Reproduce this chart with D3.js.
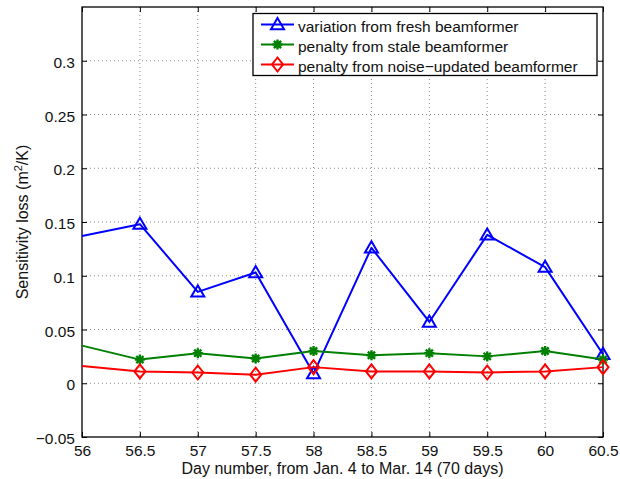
<!DOCTYPE html>
<html>
<head>
<meta charset="utf-8">
<script src="https://cdn.jsdelivr.net/npm/d3@7"></script>
<style>
  html, body { margin: 0; padding: 0; background: #fff; }
  svg { display: block; font-family: "Liberation Sans", Arial, Helvetica, sans-serif; }
</style>
</head>
<body>
<svg id="chart" width="620" height="479"></svg>
<script>
// Day numbers sampled every half day
const days = [56, 56.5, 57, 57.5, 58, 58.5, 59, 59.5, 60, 60.5];

// Sensitivity loss (m^2/K) for each beamformer case
const freshVariation = [0.137, 0.148, 0.085, 0.103, 0.009, 0.126, 0.057, 0.138, 0.108, 0.027];
const stalePenalty   = [0.035, 0.022, 0.028, 0.023, 0.030, 0.026, 0.028, 0.025, 0.030, 0.022];
const noisePenalty   = [0.016, 0.011, 0.010, 0.008, 0.015, 0.011, 0.011, 0.010, 0.011, 0.015];

const seriesNames = [
  "variation from fresh beamformer",
  "penalty from stale beamformer",
  "penalty from noise\u2212updated beamformer"
];

const xTicks = [56, 56.5, 57, 57.5, 58, 58.5, 59, 59.5, 60, 60.5];
const yTicks = [-0.05, 0, 0.05, 0.1, 0.15, 0.2, 0.25, 0.3];

const svg = d3.select("#chart");
const plotLeft = 82, plotRight = 603, plotTop = 7, plotBottom = 437;
const tickFont = "15.5px", labelFont = "16px";

const x = d3.scaleLinear().domain([56, 60.5]).range([plotLeft, plotRight]);
const y = d3.scaleLinear().domain([-0.05, 0.35]).range([plotBottom, plotTop]);

const fmt = v => (v < 0 ? "\u2212" : "") + String(Math.abs(+v.toFixed(2)));

// Dotted grid
const grid = svg.append("g").attr("stroke", "#8a8a8a").attr("stroke-width", 1)
  .attr("stroke-dasharray", "1,3");
xTicks.slice(1, -1).forEach(t => {
  grid.append("line").attr("x1", x(t)).attr("x2", x(t)).attr("y1", plotTop).attr("y2", plotBottom);
});
yTicks.slice(1).forEach(t => {
  grid.append("line").attr("x1", plotLeft).attr("x2", plotRight).attr("y1", y(t)).attr("y2", y(t));
});

// Axes with inward ticks, mirrored on top and right
const tickLen = 5;
const axisBottom = d3.axisBottom(x).tickValues(xTicks).tickSize(-tickLen).tickPadding(8).tickFormat(fmt);
const axisLeft = d3.axisLeft(y).tickValues(yTicks).tickSize(-tickLen).tickPadding(7).tickFormat(fmt);
const axisTop = d3.axisTop(x).tickValues(xTicks).tickSize(-tickLen).tickFormat("");
const axisRight = d3.axisRight(y).tickValues(yTicks).tickSize(-tickLen).tickFormat("");

function styleAxis(g) {
  g.select(".domain").remove();
  g.selectAll(".tick line").attr("stroke", "#000").attr("stroke-width", 1);
  g.selectAll(".tick text").attr("fill", "#111").style("font-size", tickFont);
}

svg.append("g").attr("transform", `translate(0,${plotBottom})`).call(axisBottom).call(styleAxis);
svg.append("g").attr("transform", `translate(${plotLeft},0)`).call(axisLeft).call(styleAxis)
  .selectAll(".tick text").attr("dy", "0.43em");
svg.append("g").attr("transform", `translate(0,${plotTop})`).call(axisTop).call(styleAxis);
svg.append("g").attr("transform", `translate(${plotRight},0)`).call(axisRight).call(styleAxis);

svg.append("rect").attr("x", plotLeft).attr("y", plotTop)
  .attr("width", plotRight - plotLeft).attr("height", plotBottom - plotTop)
  .attr("fill", "none").attr("stroke", "#000").attr("stroke-width", 1.3);

// Axis titles
svg.append("text").attr("x", (plotLeft + plotRight) / 2).attr("y", 474).attr("text-anchor", "middle")
  .style("font-size", labelFont).attr("fill", "#111")
  .text("Day number, from Jan. 4 to Mar. 14 (70 days)");

const yl = svg.append("text").attr("transform", `translate(28,${(plotTop + plotBottom) / 2}) rotate(-90)`)
  .attr("text-anchor", "middle").style("font-size", labelFont).attr("fill", "#111");
yl.append("tspan").text("Sensitivity loss (m");
yl.append("tspan").attr("dy", -6).style("font-size", "11px").text("2");
yl.append("tspan").attr("dy", 6).text("/K)");

// Marker drawing helpers
function triangle(g, cx, cy, color) {
  const s = 6.5;
  g.append("path").attr("d", `M${cx},${cy - s} L${cx + s},${cy + s * 0.72} L${cx - s},${cy + s * 0.72} Z`)
    .attr("fill", "none").attr("stroke", color).attr("stroke-width", 2);
}
function star(g, cx, cy, color) {
  const s = 5, d = s * 0.72;
  const p = `M${cx - s},${cy}L${cx + s},${cy}M${cx},${cy - s}L${cx},${cy + s}` +
            `M${cx - d},${cy - d}L${cx + d},${cy + d}M${cx - d},${cy + d}L${cx + d},${cy - d}`;
  g.append("path").attr("d", p).attr("stroke", color).attr("stroke-width", 2.4).attr("fill", "none");
}
function diamond(g, cx, cy, color) {
  const w = 5.5, h = 7;
  g.append("path").attr("d", `M${cx},${cy - h}L${cx + w},${cy}L${cx},${cy + h}L${cx - w},${cy}Z`)
    .attr("fill", "none").attr("stroke", color).attr("stroke-width", 2);
}

const series = [
  { values: freshVariation, color: "#0000ff", marker: triangle },
  { values: stalePenalty,   color: "#008000", marker: star },
  { values: noisePenalty,   color: "#ff0000", marker: diamond }
];

const line = d3.line().x(d => x(d[0])).y(d => y(d[1]));

const plot = svg.append("g");
series.forEach(s => {
  const pts = days.map((d, i) => [d, s.values[i]]);
  plot.append("path").attr("d", line(pts)).attr("fill", "none")
    .attr("stroke", s.color).attr("stroke-width", 2).attr("stroke-linejoin", "round");
  const mg = plot.append("g");
  pts.slice(1).forEach(p => s.marker(mg, x(p[0]), y(p[1]), s.color));
});

// Legend
const lg = svg.append("g");
lg.append("rect").attr("x", 253).attr("y", 13.5).attr("width", 344).attr("height", 62)
  .attr("fill", "#fff").attr("stroke", "#000").attr("stroke-width", 1.3);
const rowY = [24.5, 44.5, 64.5];
series.forEach((s, i) => {
  lg.append("line").attr("x1", 261).attr("x2", 294).attr("y1", rowY[i]).attr("y2", rowY[i])
    .attr("stroke", s.color).attr("stroke-width", 2);
  s.marker(lg, 277.5, rowY[i], s.color);
  lg.append("text").attr("x", 298).attr("y", rowY[i] + 7).style("font-size", tickFont).attr("fill", "#111")
    .text(seriesNames[i]);
});
</script>
</body>
</html>
